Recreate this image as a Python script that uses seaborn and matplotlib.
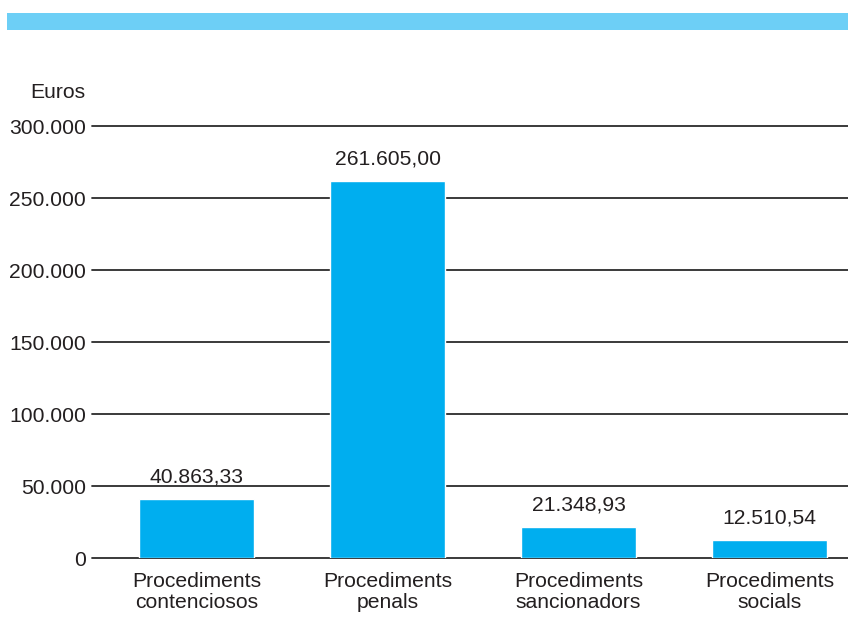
import matplotlib
matplotlib.use("Agg")
import matplotlib.pyplot as plt
import seaborn as sns
import pandas as pd
from matplotlib.patches import Rectangle

categories = ["Procediments\ncontenciosos", "Procediments\npenals",
              "Procediments\nsancionadors", "Procediments\nsocials"]
values = [40863.33, 261605.00, 21348.93, 12510.54]
yticks = [0, 50000, 100000, 150000, 200000, 250000, 300000]

def fmt_thousands(v, decimals=0):
    s = f"{v:,.{decimals}f}"
    return s.replace(",", "X").replace(".", ",").replace("X", ".")

sns.set_theme(style="white")
plt.rcParams["font.family"] = ["Liberation Sans", "DejaVu Sans"]

FS = 15.2
TXT = "#231f20"

df = pd.DataFrame({"categoria": categories, "euros": values})

fig = plt.figure(figsize=(8.48, 6.19), dpi=100)
ax = fig.add_axes([0.1085, 0.0985, 0.8915, 0.6979])

# header band
fig.patches.append(Rectangle((7 / 848, 1 - 30 / 619), 1 - 7 / 848, 17 / 619,
                             transform=fig.transFigure, facecolor="#6dcff6",
                             edgecolor="none"))

sns.barplot(data=df, x="categoria", y="euros", color="#00aeef", width=0.6,
            saturation=1, ax=ax, zorder=3)

for yv in yticks:
    ax.axhline(yv, color="#2b2b2b", lw=1.3, zorder=2, clip_on=False)

ax.set_ylim(0, 300000)
ax.set_xlim(-0.547, 3.41)
ax.set_yticks(yticks)
ax.set_yticklabels([fmt_thousands(v) for v in yticks], fontsize=FS, color=TXT)
ax.tick_params(axis="y", length=0, pad=4.5)
ax.tick_params(axis="x", length=0, pad=10)
for lab in ax.get_xticklabels():
    lab.set_fontsize(FS)
    lab.set_color(TXT)
    lab.set_linespacing(1.12)
ax.set_xlabel("")
ax.set_ylabel("")
for s in ax.spines.values():
    s.set_visible(False)

for i, v in enumerate(values):
    ax.annotate(fmt_thousands(v, 2), (i, v), xytext=(0, 9), textcoords="offset points",
                ha="center", va="bottom", fontsize=FS, color=TXT)

fig.text(58 / 848, 1 - 92 / 619, "Euros", ha="center", va="center",
         fontsize=FS, color=TXT)

fig.savefig("out.png", dpi=100)
